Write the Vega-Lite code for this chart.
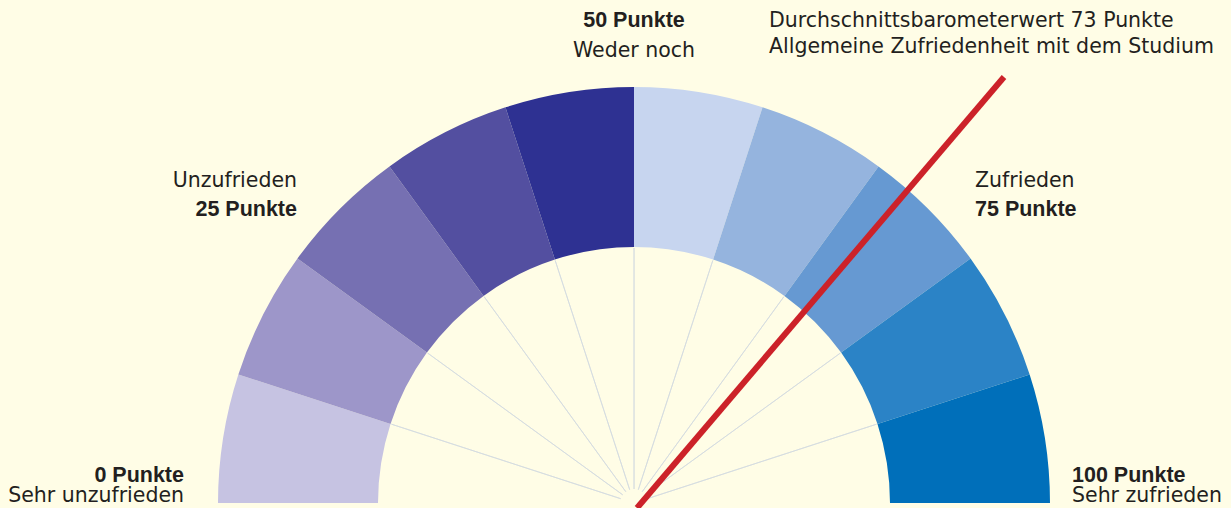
{
  "$schema": "https://vega.github.io/schema/vega-lite/v6.json",
  "width": 1231,
  "height": 508,
  "autosize": {"type": "none"},
  "padding": 0,
  "background": "#fffde6",
  "config": {"view": {"stroke": null}, "text": {"font": "DejaVu Sans", "fontSize": 20.5, "color": "#231f20", "baseline": "alphabetic"}},
  "datasets": {
    "segments": [
      {"seg": 1, "start": 0, "end": 10},
      {"seg": 2, "start": 10, "end": 20},
      {"seg": 3, "start": 20, "end": 30},
      {"seg": 4, "start": 30, "end": 40},
      {"seg": 5, "start": 40, "end": 50},
      {"seg": 6, "start": 50, "end": 60},
      {"seg": 7, "start": 60, "end": 70},
      {"seg": 8, "start": 70, "end": 80},
      {"seg": 9, "start": 80, "end": 90},
      {"seg": 10, "start": 90, "end": 100}
    ],
    "bounds": [{"v": 10}, {"v": 20}, {"v": 30}, {"v": 40}, {"v": 50}, {"v": 60}, {"v": 70}, {"v": 80}, {"v": 90}],
    "needle": [{"score": 73, "x": 3, "y": -5, "x2": 370, "y2": 426}]
  },
  "layer": [
    {
      "data": {"name": "segments"},
      "mark": {"type": "arc", "radius": 416, "radius2": 256},
      "encoding": {
        "x": {"datum": 0, "type": "quantitative", "scale": {"domain": [-634, 597], "nice": false, "zero": false}, "axis": null},
        "y": {"datum": 0, "type": "quantitative", "scale": {"domain": [-5, 503], "nice": false, "zero": false}, "axis": null},
        "theta": {"field": "start", "type": "quantitative", "scale": {"domain": [0, 100], "range": [-1.5708, 1.5708]}},
        "theta2": {"field": "end"},
        "color": {"field": "seg", "type": "ordinal", "legend": null,
          "scale": {"domain": [1,2,3,4,5,6,7,8,9,10],
            "range": ["#c6c3e2", "#9d96c9", "#7670b2", "#534fa0", "#2e3192", "#c7d5ef", "#95b4de", "#6699d2", "#2b83c6", "#006fba"]}}
      }
    },
    {
      "data": {"name": "bounds"},
      "mark": {"type": "arc", "radius": 255, "radius2": 14, "filled": false, "stroke": "#d3dbdf", "strokeWidth": 0.8},
      "encoding": {
        "x": {"datum": 0, "type": "quantitative"},
        "y": {"datum": 0, "type": "quantitative"},
        "theta": {"field": "v", "type": "quantitative", "scale": {"domain": [0, 100], "range": [-1.5708, 1.5708]}},
        "theta2": {"field": "v"}
      }
    },
    {
      "data": {"name": "needle"},
      "mark": {"type": "rule", "color": "#cc2229", "strokeWidth": 6},
      "encoding": {
        "x": {"field": "x", "type": "quantitative"},
        "y": {"field": "y", "type": "quantitative"},
        "x2": {"field": "x2"},
        "y2": {"field": "y2"}
      }
    },
    {
      "data": {"values": [{"t": "50 Punkte", "x": 0, "y": 476}]},
      "mark": {"type": "text", "align": "center", "fontWeight": "bold", "font": "Liberation Sans", "fontSize": 21.5},
      "encoding": {"x": {"field": "x", "type": "quantitative"}, "y": {"field": "y", "type": "quantitative"}, "text": {"field": "t"}}
    },
    {
      "data": {"values": [{"t": "Weder noch", "x": 0, "y": 446}]},
      "mark": {"type": "text", "align": "center"},
      "encoding": {"x": {"field": "x", "type": "quantitative"}, "y": {"field": "y", "type": "quantitative"}, "text": {"field": "t"}}
    },
    {
      "data": {"values": [
        {"t": "Durchschnittsbarometerwert 73 Punkte", "x": 135, "y": 476},
        {"t": "Allgemeine Zufriedenheit mit dem Studium", "x": 135, "y": 450},
        {"t": "Zufrieden", "x": 341, "y": 316},
        {"t": "Sehr zufrieden", "x": 438, "y": 1}
      ]},
      "mark": {"type": "text", "align": "left"},
      "encoding": {"x": {"field": "x", "type": "quantitative"}, "y": {"field": "y", "type": "quantitative"}, "text": {"field": "t"}}
    },
    {
      "data": {"values": [
        {"t": "75 Punkte", "x": 341, "y": 287},
        {"t": "100 Punkte", "x": 438, "y": 21}
      ]},
      "mark": {"type": "text", "align": "left", "fontWeight": "bold", "font": "Liberation Sans", "fontSize": 21.5},
      "encoding": {"x": {"field": "x", "type": "quantitative"}, "y": {"field": "y", "type": "quantitative"}, "text": {"field": "t"}}
    },
    {
      "data": {"values": [
        {"t": "Unzufrieden", "x": -337, "y": 316},
        {"t": "Sehr unzufrieden", "x": -450, "y": 1}
      ]},
      "mark": {"type": "text", "align": "right"},
      "encoding": {"x": {"field": "x", "type": "quantitative"}, "y": {"field": "y", "type": "quantitative"}, "text": {"field": "t"}}
    },
    {
      "data": {"values": [
        {"t": "25 Punkte", "x": -337, "y": 287},
        {"t": "0 Punkte", "x": -450, "y": 21}
      ]},
      "mark": {"type": "text", "align": "right", "fontWeight": "bold", "font": "Liberation Sans", "fontSize": 21.5},
      "encoding": {"x": {"field": "x", "type": "quantitative"}, "y": {"field": "y", "type": "quantitative"}, "text": {"field": "t"}}
    }
  ]
}
